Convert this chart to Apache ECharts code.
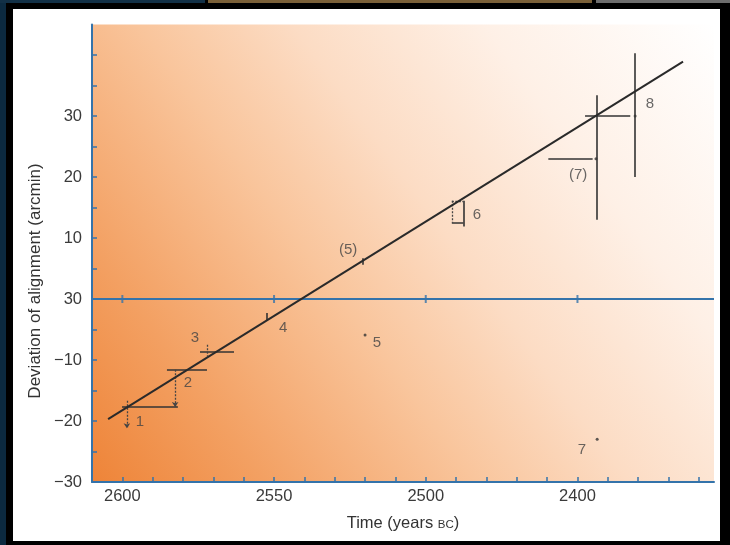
<!DOCTYPE html>
<html>
<head>
<meta charset="utf-8">
<script src="https://cdn.jsdelivr.net/npm/echarts@6/dist/echarts.min.js"></script>
<style>
html,body{margin:0;padding:0;background:#000;width:730px;height:545px;overflow:hidden;position:relative}
#navy{position:absolute;left:0;top:0;width:6px;height:545px;background:#0c2a40}
#top1{position:absolute;left:0;top:0;width:205px;height:3px;background:#123046}
#top2{position:absolute;left:208px;top:0;width:384px;height:3px;background:#7a6038}
#top3{position:absolute;left:596px;top:0;width:134px;height:3px;background:#6d6d6d}
#panel{position:absolute;left:13px;top:9px;width:707px;height:532px;background:#fff}
#chart{position:absolute;left:0;top:0;width:730px;height:545px}
</style>
</head>
<body>
<div id="navy"></div><div id="top1"></div><div id="top2"></div><div id="top3"></div>
<div id="panel"></div>
<div id="chart"></div>
<script>
// ---- data ----
const xMajorTicks = [2600, 2550, 2500, 2450];
const xMajorLabels = ['2600', '2550', '2500', '2400'];
const xTickValues = [2600, 2590, 2580, 2570, 2560, 2550, 2540, 2530, 2520, 2510, 2500, 2490, 2480, 2470, 2460, 2450, 2440, 2430, 2420, 2410];
const yTickValues = [-30, -25, -20, -15, -10, -5, 0, 5, 10, 15, 20, 25, 30, 35, 40];
const yLabelValues = [-30, -20, -10, 0, 10, 20, 30];
const yLabelTexts = ['\u221230', '\u221220', '\u221210', '30', '10', '20', '30'];
const zeroLineTicks = [2600, 2550, 2500, 2450];

const regressionLine = [[2604.7, -19.7], [2415.2, 38.9]];

const solidSegments = [
  [[2600.1, -17.7], [2581.7, -17.7]],
  [[2585.3, -11.6], [2572.1, -11.6]],
  [[2574.4, -8.7], [2563.2, -8.7]],
  [[2552.3, -2.3], [2552.3, -3.6]],
  [[2520.7, 6.7], [2520.7, 5.6]],
  [[2487.6, 16.1], [2487.6, 11.9]],
  [[2491.4, 12.5], [2487.6, 12.5]],
  [[2443.7, 33.4], [2443.7, 13.0]],
  [[2459.6, 23.0], [2445.0, 23.0]],
  [[2431.0, 40.3], [2431.0, 20.0]],
  [[2447.5, 30.0], [2432.6, 30.0]]
];
const dottedSegments = [
  [[2572.1, -7.5], [2572.1, -9.4]],
  [[2491.4, 16.1], [2491.4, 12.5]],
  [[2491.4, 16.1], [2487.6, 16.1]]
];
const arrowSegments = [
  [[2598.5, -16.7], [2598.5, -21.2]],
  [[2582.6, -11.6], [2582.6, -17.7]]
];
const dots = [[2520.0, -5.9], [2443.9, 23.0], [2431.0, 30.0], [2443.5, -23.0]];

const pointLabels = ['1', '2', '3', '4', '(5)', '5', '6', '(7)', '7', '8'];
const pointLabelPos = [
  [2594.2, -20.2], [2578.4, -13.8], [2576.1, -6.4], [2547.0, -4.8], [2525.6, 8.0],
  [2516.1, -7.2], [2483.1, 13.8], [2449.8, 20.3], [2448.5, -24.8], [2426.1, 32.0]
];

// ---- chart ----
const axisBlue = '#3473aa';
const ink = '#2a2a2a';
const font = '"Liberation Sans", Arial, Helvetica, sans-serif';

const chart = echarts.init(document.getElementById('chart'), null, {renderer: 'canvas'});

const toLines = segs => segs.map(s => ({coords: s}));

chart.setOption({
  animation: false,
  backgroundColor: 'transparent',
  textStyle: {fontFamily: font},
  grid: {
    left: 92, right: 16, top: 24.5, bottom: 63,
    show: true, borderWidth: 0,
    backgroundColor: new echarts.graphic.LinearGradient(0, 1, 1, 0, [
      {offset: 0, color: '#ee8438'},
      {offset: 0.18, color: '#f3a062'},
      {offset: 0.4, color: '#f9c59c'},
      {offset: 0.56, color: '#fcdcc4'},
      {offset: 0.76, color: '#fef0e6'},
      {offset: 1, color: '#ffffff'}
    ])
  },
  xAxis: {
    type: 'value', inverse: true, min: 2405, max: 2610,
    name: 'Time (years {sc|BC})',
    nameLocation: 'middle', nameGap: 33,
    nameTextStyle: {fontSize: 16.5, color: '#333', fontFamily: font,
      rich: {sc: {fontSize: 11.5, color: '#333', fontFamily: font, padding: [3, 0, 0, 0]}}},
    axisLine: {show: true, onZero: false, lineStyle: {color: axisBlue, width: 2}},
    axisTick: {show: true, inside: true, length: 5, customValues: xTickValues, lineStyle: {color: axisBlue, width: 1.5}},
    axisLabel: {customValues: xMajorTicks, margin: 6, fontSize: 16.5, color: '#3a3a3a', fontFamily: font,
      formatter: v => xMajorLabels[xMajorTicks.indexOf(v)] || ''},
    splitLine: {show: false}
  },
  yAxis: {
    type: 'value', min: -30, max: 45,
    axisLine: {show: true, onZero: false, lineStyle: {color: axisBlue, width: 2}},
    axisTick: {show: true, inside: true, length: 5, customValues: yTickValues, lineStyle: {color: axisBlue, width: 1.5}},
    axisLabel: {customValues: yLabelValues, margin: 10, fontSize: 16.5, color: '#3a3a3a', fontFamily: font,
      formatter: v => yLabelTexts[yLabelValues.indexOf(v)] || ''},
    splitLine: {show: false}
  },
  graphic: [{
    type: 'text', x: 35, y: 281, rotation: Math.PI / 2, z: 10,
    style: {text: 'Deviation of alignment (arcmin)', font: '17px ' + font, fill: '#333',
      textAlign: 'center', textVerticalAlign: 'middle', align: 'center', verticalAlign: 'middle'}
  }],
  series: [
    {
      type: 'scatter', data: zeroLineTicks.map(t => [t, 0]), symbol: 'rect', symbolSize: [2, 8],
      itemStyle: {color: axisBlue}, silent: true, z: 1,
      markLine: {silent: true, symbol: 'none', label: {show: false},
        lineStyle: {color: axisBlue, width: 2, type: 'solid'}, data: [{yAxis: 0}]}
    },
    {
      type: 'line', data: regressionLine, symbol: 'none', z: 5,
      lineStyle: {color: ink, width: 2}
    },
    {
      type: 'lines', coordinateSystem: 'cartesian2d', data: toLines(solidSegments), z: 4,
      symbol: 'none', lineStyle: {color: '#333', width: 1.6, opacity: 1}
    },
    {
      type: 'lines', coordinateSystem: 'cartesian2d', data: toLines(dottedSegments), z: 4,
      symbol: 'none', lineStyle: {color: '#444', width: 1.3, type: [2, 1.5], opacity: 1}
    },
    {
      type: 'lines', coordinateSystem: 'cartesian2d', data: toLines(arrowSegments), z: 4,
      symbol: ['none', 'arrow'], symbolSize: 5,
      lineStyle: {color: '#444', width: 1.3, type: [2, 1.5], opacity: 1}
    },
    {
      type: 'scatter', data: dots, symbolSize: 3, itemStyle: {color: '#333'}, z: 6
    },
    {
      type: 'scatter', symbolSize: 0, z: 7,
      data: pointLabels.map((n, i) => ({name: n, value: pointLabelPos[i]})),
      label: {show: true, position: 'inside', formatter: '{b}', fontSize: 15, color: '#444', fontFamily: font}
    }
  ]
});
</script>
</body>
</html>
